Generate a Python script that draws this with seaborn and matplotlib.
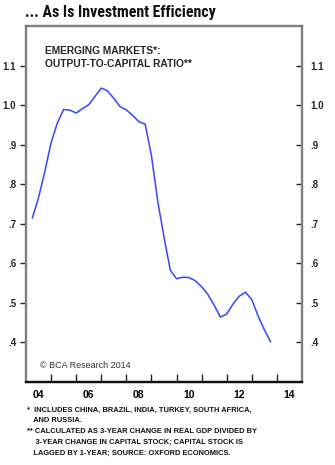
import matplotlib
matplotlib.use("Agg")
import matplotlib.pyplot as plt
import matplotlib.ticker as mticker
from matplotlib import font_manager
import numpy as np
import pandas as pd
import seaborn as sns

# Quarterly output-to-capital ratio, emerging markets
quarters = [2004.25, 2004.50, 2004.75, 2005.00, 2005.25, 2005.50, 2005.75,
            2006.00, 2006.25, 2006.50, 2006.75, 2007.00, 2007.25, 2007.50,
            2007.75, 2008.00, 2008.25, 2008.50, 2008.75, 2009.00, 2009.25,
            2009.50, 2009.75, 2010.00, 2010.25, 2010.50, 2010.75, 2011.00,
            2011.25, 2011.50, 2011.75, 2012.00, 2012.25, 2012.50, 2012.75,
            2013.00, 2013.25, 2013.50, 2013.75]
ratio = [0.714, 0.766, 0.832, 0.905, 0.955, 0.989, 0.987,
         0.980, 0.991, 1.001, 1.022, 1.043, 1.036, 1.017,
         0.996, 0.988, 0.974, 0.958, 0.952, 0.872, 0.757,
         0.666, 0.583, 0.561, 0.565, 0.564, 0.556, 0.541,
         0.521, 0.494, 0.464, 0.472, 0.497, 0.517, 0.527,
         0.508, 0.467, 0.432, 0.401]

y_ticks = [0.4, 0.5, 0.6, 0.7, 0.8, 0.9, 1.0, 1.1]
y_tick_labels = [".4", ".5", ".6", ".7", ".8", ".9", "1.0", "1.1"]
year_labels = ["04", "06", "08", "10", "12", "14"]

title = "... As Is Investment Efficiency"
series_label = "EMERGING MARKETS*:\nOUTPUT-TO-CAPITAL RATIO**"
footnotes = [
    "*  INCLUDES CHINA, BRAZIL, INDIA, TURKEY, SOUTH AFRICA,",
    "   AND RUSSIA.",
    "** CALCULATED AS 3-YEAR CHANGE IN REAL GDP DIVIDED BY",
    "    3-YEAR CHANGE IN CAPITAL STOCK; CAPITAL STOCK IS",
    "   LAGGED BY 1-YEAR; SOURCE: OXFORD ECONOMICS.",
]

sns.set_theme(style="white")
plt.rcParams["font.family"] = ["Liberation Sans", "DejaVu Sans"]

installed = {f.name for f in font_manager.fontManager.ttflist}
title_family = ["Liberation Sans Narrow"] if "Liberation Sans Narrow" in installed \
    else ["Roboto Condensed"] if "Roboto Condensed" in installed else ["Liberation Sans"]
title_stretch = "normal" if title_family[0] != "Liberation Sans" else "condensed"

df = pd.DataFrame({"year": quarters, "ratio": ratio})

fig = plt.figure(figsize=(3.35, 4.65), dpi=100)
ax = fig.add_axes([26 / 335, 1 - 382 / 465, 276 / 335, 356 / 465])

sns.lineplot(data=df, x="year", y="ratio", ax=ax, color="#3347ff",
             linewidth=1.1)

ax.set_xlim(2004, 2015)
ax.set_ylim(0.3, 1.2)
ax.set_xlabel("")
ax.set_ylabel("")

spine_col = "#808080"
for name, s in ax.spines.items():
    s.set_visible(True)
    s.set_linewidth(1.6)
    s.set_color("#111111" if name == "bottom" else spine_col)

# x axis: year-boundary ticks pointing in, labels centred on the year
ax.xaxis.set_major_locator(mticker.FixedLocator(np.arange(2005, 2015)))
ax.xaxis.set_major_formatter(mticker.NullFormatter())
ax.xaxis.set_minor_locator(mticker.FixedLocator(np.arange(2004.5, 2015, 2)))
ax.xaxis.set_minor_formatter(mticker.FixedFormatter(year_labels))
ax.tick_params(axis="x", which="major", direction="in", length=6, width=1,
               color="#222222", bottom=True, top=False)
ax.tick_params(axis="x", which="minor", length=0, pad=6, labelsize=7.5,
               labelcolor="black")
for lab in ax.get_xticklabels(minor=True):
    lab.set_fontweight("bold")

# left y axis, ticks pointing out
ax.yaxis.set_major_locator(mticker.FixedLocator(y_ticks))
ax.yaxis.set_major_formatter(mticker.FixedFormatter(y_tick_labels))
ax.tick_params(axis="y", which="major", direction="out", length=4, width=1,
               color="#222222", left=True, labelsize=7, pad=3)
for lab in ax.get_yticklabels():
    lab.set_fontweight("bold")

# right y axis, ticks pointing in
ax2 = ax.twinx()
ax2.set_ylim(ax.get_ylim())
ax2.yaxis.set_major_locator(mticker.FixedLocator(y_ticks))
ax2.yaxis.set_major_formatter(mticker.FixedFormatter(y_tick_labels))
ax2.tick_params(axis="y", which="major", direction="in", length=4, width=1,
                color="#222222", right=True, labelsize=7, pad=6)
for lab in ax2.get_yticklabels():
    lab.set_fontweight("bold")
    lab.set_horizontalalignment("left")
for name, s in ax2.spines.items():
    s.set_linewidth(1.6)
    s.set_color("#111111" if name == "bottom" else spine_col)
ax2.grid(False)
ax.grid(False)

ax.text(0.07, 0.945, series_label, transform=ax.transAxes, ha="left",
        va="top", fontsize=7.4, fontweight="bold", linespacing=1.4)
ax.text(0.05, 0.045, "© BCA Research 2014", transform=ax.transAxes,
        ha="left", va="center", fontsize=6.5, color="#333333")

fig.text(25 / 335, 1 - 13 / 465, title, ha="left", va="center",
         fontsize=11.4, fontweight="bold", color="#111111",
         family=title_family, fontstretch=title_stretch)

for i, line in enumerate(footnotes):
    y = 410 + i * 10.8
    fig.text(27 / 335, 1 - y / 465, line, ha="left", va="center",
             fontsize=5.45, fontweight="bold", color="#111111")

fig.savefig("out.png", dpi=100)
